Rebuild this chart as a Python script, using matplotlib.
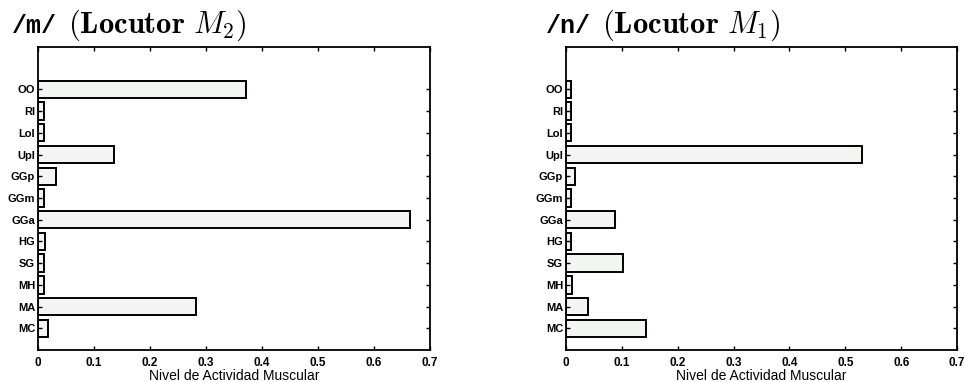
import numpy as np
import matplotlib
matplotlib.use('Agg')
import matplotlib.pyplot as plt

plt.rcParams['font.family'] = ['Liberation Sans', 'DejaVu Sans']
plt.rcParams['mathtext.fontset'] = 'cm'

# muscles, bottom to top as drawn
muscles = ["MC", "MA", "MH", "SG", "HG", "GGa", "GGm", "GGp", "UpI", "LoI", "RI", "OO"]
# activity levels per speaker, same order as muscles
act_m_M2 = [0.017, 0.282, 0.011, 0.010, 0.0125, 0.665, 0.010, 0.032, 0.136, 0.010, 0.010, 0.371]
act_n_M1 = [0.143, 0.040, 0.010, 0.102, 0.009, 0.087, 0.009, 0.017, 0.530, 0.009, 0.009, 0.009]
xticks = [0, 0.1, 0.2, 0.3, 0.4, 0.5, 0.6, 0.7]
phonemes = ["/m/", "/n/"]
speakers = [r"$\mathbf{(Locutor}\ M_2\mathbf{)}$", r"$\mathbf{(Locutor}\ M_1\mathbf{)}$"]

fig = plt.figure(figsize=(9.64, 3.82), dpi=100)
W, H = 964.0, 382.0
boxes = [(38, 47, 430, 350), (566, 47, 957, 350)]
title_x = [12, 546]

for i, vals in enumerate([act_m_M2, act_n_M1]):
    x0, y0, x1, y1 = boxes[i]
    ax = fig.add_axes([x0 / W, 1 - y1 / H, (x1 - x0) / W, (y1 - y0) / H])
    pos = np.arange(1, len(muscles) + 1)
    ax.barh(pos, vals, height=0.8, color='#f3f5f2', edgecolor='black', linewidth=1.4)
    ax.set_xlim(0, 0.7)
    ax.set_ylim(0, 13.95)
    ax.set_yticks(pos)
    ax.set_yticklabels(muscles, fontsize=8, fontweight='bold')
    ax.set_xticks(xticks)
    ax.set_xticklabels([("%g" % t) for t in xticks], fontsize=8.5, fontweight='bold')
    ax.tick_params(axis='x', direction='in', top=True, length=3, width=1, pad=5)
    ax.tick_params(axis='y', direction='in', right=True, length=3, width=1, pad=2)
    for s in ax.spines.values():
        s.set_linewidth(1.3)
    ax.set_xlabel("Nivel de Actividad Muscular", fontsize=10, labelpad=0)

    # title: phoneme in bold mono, speaker in serif
    tx = title_x[i]
    fig.text(tx / W, 1 - 33 / H, phonemes[i], fontsize=18, family='Liberation Mono',
             fontweight='bold', ha='left', va='baseline')
    fig.text((tx + 56) / W, 1 - 33 / H, speakers[i], fontsize=22, ha='left', va='baseline')

plt.savefig("out.png", dpi=100)
